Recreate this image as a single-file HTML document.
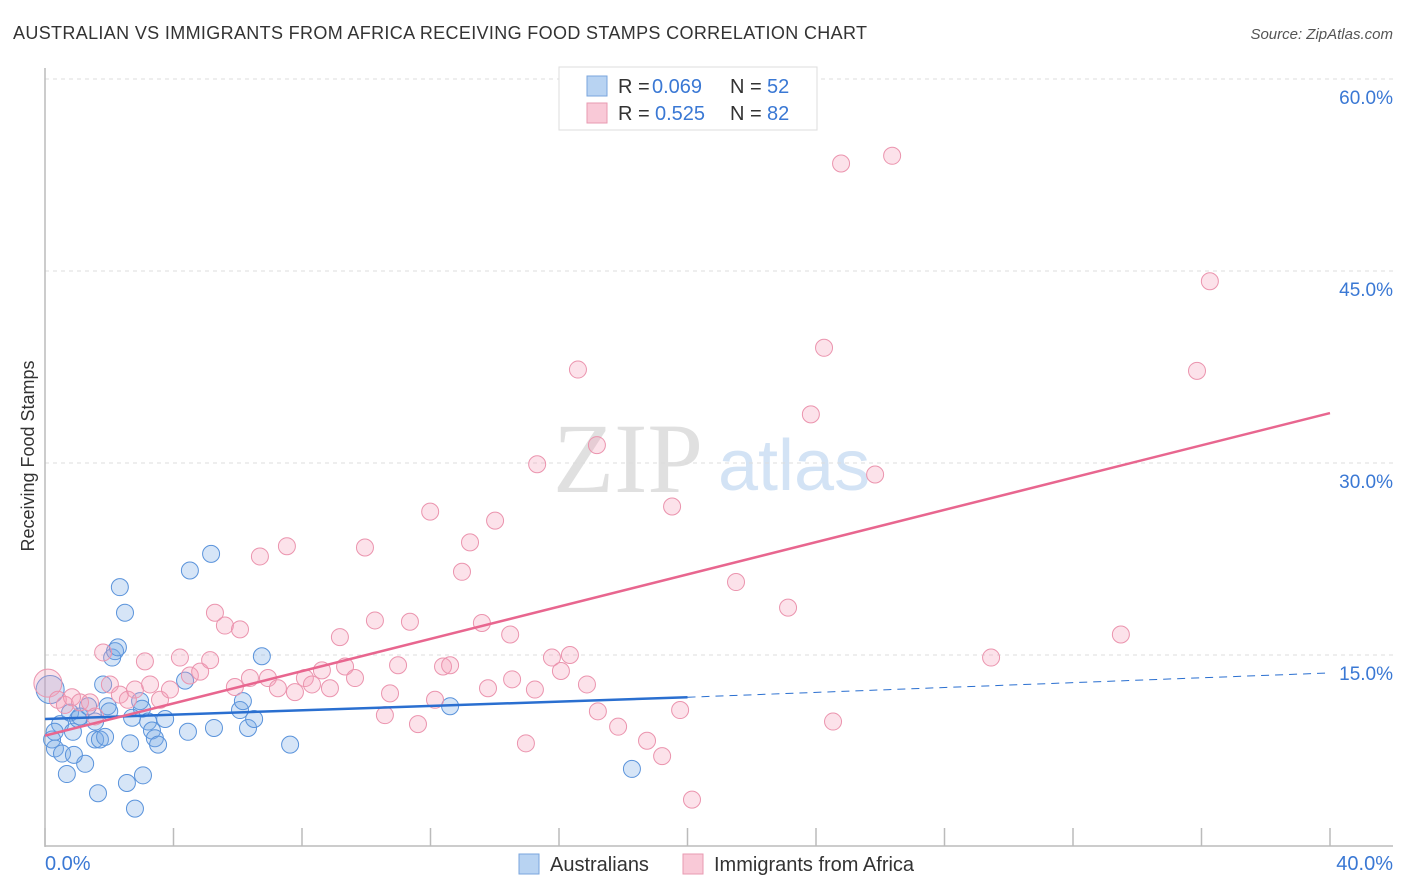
<!DOCTYPE html>
<html><head><meta charset="utf-8"><style>
body{margin:0;background:#fff;font-family:"Liberation Sans",sans-serif;}
svg{display:block}
</style></head><body>
<svg id="chart" width="1406" height="892">
<text x="13" y="39" font-size="18" fill="#333" textLength="854">AUSTRALIAN VS IMMIGRANTS FROM AFRICA RECEIVING FOOD STAMPS CORRELATION CHART</text>
<text x="1393" y="39" font-size="15" fill="#555" font-style="italic" text-anchor="end">Source: ZipAtlas.com</text>
<text x="553" y="492" font-size="100" fill="#e0e0e0" font-family="Liberation Serif,serif">ZIP</text>
<text x="718" y="490" font-size="72" fill="#d3e3f5">atlas</text>
<text transform="translate(34,456) rotate(-90)" font-size="18" fill="#333" text-anchor="middle">Receiving Food Stamps</text>
<g id="axes"></g>
<g id="marks"></g>
<g>
<rect x="559" y="67" width="258" height="63" fill="#fff" stroke="#ddd"/>
<rect x="587" y="76" width="20" height="20" fill="#b8d3f2" stroke="#7aa6dd"/>
<rect x="587" y="103" width="20" height="20" fill="#f9c9d7" stroke="#e89ab2"/>
<text y="93" font-size="20" fill="#333"><tspan x="618">R =</tspan><tspan x="652" fill="#3a78d4">0.069</tspan><tspan x="730">N =</tspan><tspan x="767" fill="#3a78d4">52</tspan></text>
<text y="120" font-size="20" fill="#333"><tspan x="618">R =</tspan><tspan x="655" fill="#3a78d4">0.525</tspan><tspan x="730">N =</tspan><tspan x="767" fill="#3a78d4">82</tspan></text>
</g>
<g>
<rect x="519" y="854" width="20" height="20" fill="#b8d3f2" stroke="#7aa6dd"/>
<text x="550" y="871" font-size="20" fill="#333">Australians</text>
<rect x="683" y="854" width="20" height="20" fill="#f9c9d7" stroke="#e89ab2"/>
<text x="714" y="871" font-size="20" fill="#333">Immigrants from Africa</text>
</g>
</svg>
<script>
const yTicks=[15,30,45,60];
const yTickLabels=["15.0%","30.0%","45.0%","60.0%"];
const xTicks=[0,4,8,12,16,20,24,28,32,36,40];
const ausX=[0.16,0.22,0.31,0.53,0.68,0.47,0.78,0.87,1.03,1.09,1.25,1.34,1.56,1.65,1.81,1.95,2.09,2.18,2.27,2.33,2.49,2.55,2.65,2.71,2.80,2.96,3.02,3.05,3.21,3.33,3.42,3.52,3.74,4.36,4.45,4.51,5.17,5.26,6.07,6.16,6.32,6.51,6.75,7.63,12.61,18.27,1.56,1.71,1.87,0.3,0.9,2.0];
const ausY=[12.3,8.4,7.7,7.3,5.7,9.6,10.5,9.0,10.0,10.2,6.5,11.0,9.8,4.2,12.7,11.0,14.8,15.3,15.6,20.3,18.3,5.0,8.1,10.1,3.0,11.4,10.8,5.6,9.8,9.1,8.5,8.0,10.0,13.0,9.0,21.6,22.9,9.3,10.7,11.4,9.3,10.0,14.9,8.0,11.0,6.1,8.4,8.4,8.6,9.0,7.2,10.6];
const afrX=[0.09,0.40,0.62,0.84,1.09,1.40,1.56,1.81,2.02,2.33,2.58,2.80,3.11,3.27,3.58,3.89,4.20,4.51,4.83,5.14,5.29,5.60,5.91,6.07,6.38,6.69,6.94,7.25,7.53,7.78,8.09,8.31,8.62,8.87,9.18,9.34,9.65,9.96,10.27,10.58,10.74,10.99,11.36,11.61,11.99,12.14,12.39,12.61,12.98,13.23,13.60,13.79,14.01,14.48,14.54,15.25,14.97,15.32,15.78,16.06,16.34,16.59,16.87,17.21,17.18,17.84,18.74,19.21,19.52,19.77,20.14,21.51,23.13,23.84,24.25,24.53,24.78,25.84,26.37,29.45,33.49,35.86,36.26];
const afrY=[12.8,11.5,11.1,11.7,11.3,11.3,10.2,15.2,12.7,11.9,11.5,12.3,14.5,12.7,11.5,12.3,14.8,13.4,13.7,14.6,18.3,17.3,12.5,17.0,13.2,22.7,13.2,12.4,23.5,12.1,13.2,12.7,13.8,12.4,16.4,14.1,13.2,23.4,17.7,10.3,12.0,14.2,17.6,9.6,26.2,11.5,14.1,14.2,21.5,23.8,17.5,12.4,25.5,16.6,13.1,12.3,8.1,29.9,14.8,13.75,15.0,37.3,12.7,10.6,31.4,9.4,8.3,7.1,26.6,10.7,3.7,20.7,18.7,33.8,39.0,9.8,53.4,29.1,54.0,14.8,16.6,37.2,44.2];
const X=v=>45+v*32.125, Y=v=>847-v*12.8;
const NS="http://www.w3.org/2000/svg";
function mk(t,a,p){const e=document.createElementNS(NS,t);for(const k in a)e.setAttribute(k,a[k]);p.appendChild(e);return e;}
const axes=document.getElementById('axes'),marks=document.getElementById('marks');
yTicks.forEach((t,i)=>{
 const g=mk('line',{x1:45,x2:1393,y1:Y(t),y2:Y(t),stroke:'#ddd','stroke-dasharray':'4,4'},axes);
 
 
 const l=mk('text',{x:1393,y:Y(t)+25,'font-size':19,fill:'#3a78d4','text-anchor':'end'},axes);
 l.textContent=yTickLabels[i];
 
 
});
const ax=mk('line',{x1:45,x2:45,y1:68,y2:847,stroke:'#bbb','stroke-width':1.5},axes);


const bx=mk('line',{x1:45,x2:1393,y1:846,y2:846,stroke:'#bbb','stroke-width':1.5},axes);


xTicks.forEach(t=>{
 const tk=mk('line',{x1:X(t),x2:X(t),y1:828,y2:846,stroke:'#bbb','stroke-width':1.5},axes);
 
 
});
const x0=mk('text',{x:45,y:870,'font-size':20,fill:'#3a78d4'},axes);x0.textContent='0.0%';


const x1=mk('text',{x:1393,y:870,'font-size':20,fill:'#3a78d4','text-anchor':'end'},axes);x1.textContent='40.0%';


ausX.forEach((x,i)=>{
 const c=mk('circle',{cx:X(x),cy:Y(ausY[i]),r:i==0?14:8.5,fill:'rgba(120,170,230,0.3)',stroke:'#5a93db','stroke-width':1},marks);
 
 
});
afrX.forEach((x,i)=>{
 const c=mk('circle',{cx:X(x),cy:Y(afrY[i]),r:i==0?14:8.5,fill:'rgba(245,160,185,0.3)',stroke:'#eb94ae','stroke-width':1},marks);
 
 
});
const bl=mk('line',{x1:X(0),y1:Y(10.0),x2:X(20),y2:Y(11.7),stroke:'#2a6fd0','stroke-width':2.5},marks);


const bd=mk('line',{x1:X(20),y1:Y(11.7),x2:X(40),y2:Y(13.6),stroke:'#2a6fd0','stroke-width':1,'stroke-dasharray':'8,6'},marks);


const pl=mk('line',{x1:X(0),y1:Y(8.7),x2:X(40),y2:Y(33.9),stroke:'#e8668f','stroke-width':2.5},marks);


</script>
</body></html>
